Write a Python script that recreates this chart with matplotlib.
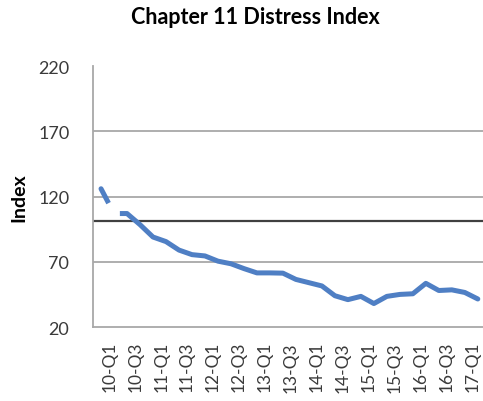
"""Chapter 11 distress index, quarterly, with the long-run reference level."""

import matplotlib

matplotlib.use("Agg")
import matplotlib.pyplot as plt
import numpy as np

# Quarterly index values, 09-Q4 .. 17-Q1.
QUARTERS = [
    "09-Q4",
    "10-Q1", "10-Q2", "10-Q3", "10-Q4",
    "11-Q1", "11-Q2", "11-Q3", "11-Q4",
    "12-Q1", "12-Q2", "12-Q3", "12-Q4",
    "13-Q1", "13-Q2", "13-Q3", "13-Q4",
    "14-Q1", "14-Q2", "14-Q3", "14-Q4",
    "15-Q1", "15-Q2", "15-Q3", "15-Q4",
    "16-Q1", "16-Q2", "16-Q3", "16-Q4",
    "17-Q1",
]
INDEX_VALUES = [
    126.0,
    107.0, 107.0, 98.5, 89.0,
    85.5, 79.0, 75.5, 74.5,
    70.5, 68.5, 64.8, 61.5,
    61.5, 61.3, 56.5, 54.0,
    51.5, 44.0, 41.0, 43.5,
    38.0, 43.5, 45.0, 45.5,
    53.5, 48.0, 48.5, 46.5,
    41.5,
]
REFERENCE_LEVEL = 101.0

Y_TICKS = [20, 70, 120, 170, 220]
GRID_LEVELS = [70, 120, 170]

# Blank stretch of the series around 10-Q1, in category units.
BREAK_X = [0.58, 1.0, 1.45]

LINE_COLOR = "#4F7FC4"
GRID_COLOR = "#A8A8A8"
TEXT_COLOR = "#3A3A3A"
FONT = ["Lato", "DejaVu Sans"]


def main() -> None:
    plt.rcParams["font.family"] = FONT

    fig = plt.figure(figsize=(4.83, 4.02), dpi=100)
    ax = fig.add_axes([0.1925, 0.184, 0.8075, 0.649])

    x = np.arange(len(QUARTERS))
    for level in GRID_LEVELS:
        ax.axhline(level, color=GRID_COLOR, lw=1.3, zorder=1)
    ax.axhline(REFERENCE_LEVEL, color="#404040", lw=1.6, zorder=2)

    ax.plot(x, INDEX_VALUES, color=LINE_COLOR, lw=3.6,
            solid_capstyle="round", solid_joinstyle="round", zorder=3)
    # knock out the missing stretch by tracing it in white
    ax.plot(BREAK_X, np.interp(BREAK_X, x, INDEX_VALUES), color="white",
            lw=5.0, solid_capstyle="butt", solid_joinstyle="miter", zorder=4)

    ax.set_xlim(-0.62, 29.4)
    ax.set_ylim(Y_TICKS[0], Y_TICKS[-1])
    ax.set_yticks(Y_TICKS)
    ax.set_yticklabels([str(t) for t in Y_TICKS])
    ax.set_xticks([])
    # every other quarter is labelled, nudged a little left of its point
    for i in x[1::2]:
        ax.annotate(QUARTERS[i], xy=(i, 0), xycoords=("data", "axes fraction"),
                    xytext=(-3.5, -10), textcoords="offset points",
                    rotation=90, ha="center", va="top",
                    fontsize=12.5, color=TEXT_COLOR, annotation_clip=False)

    ax.tick_params(axis="y", length=0, pad=17, labelsize=13, labelcolor=TEXT_COLOR)

    for side in ("top", "right"):
        ax.spines[side].set_visible(False)
    for side in ("left", "bottom"):
        ax.spines[side].set_color(GRID_COLOR)
        ax.spines[side].set_linewidth(1.3)

    ax.set_ylabel("Index", fontsize=14, fontweight="bold", color="black")
    ax.yaxis.set_label_coords(-0.169, 0.5)

    fig.text(255 / 483, 1 - 18 / 402, "Chapter 11 Distress Index",
             ha="center", va="center", fontsize=15.5, fontweight="bold")

    fig.savefig("out.png", dpi=100)
    plt.close(fig)


if __name__ == "__main__":
    main()
